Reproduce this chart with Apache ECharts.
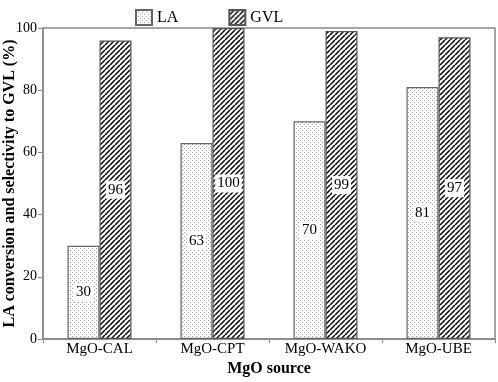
<!DOCTYPE html>
<html><head><meta charset="utf-8">
<script src="https://cdn.jsdelivr.net/npm/echarts@6/dist/echarts.min.js"></script>
<style>html,body{margin:0;padding:0;background:#fff}#c{width:498px;height:382px}</style>
</head><body><div id="c"></div>
<script>
const categories = ['MgO-CAL', 'MgO-CPT', 'MgO-WAKO', 'MgO-UBE'];
const laValues = [30, 63, 70, 81];
const gvlValues = [96, 100, 99, 97];
const yTicks = [0, 20, 40, 60, 80, 100];

function dotPattern() {
  const c = document.createElement('canvas'); c.width = 4; c.height = 4;
  const g = c.getContext('2d');
  g.fillStyle = '#fff'; g.fillRect(0, 0, 4, 4);
  g.fillStyle = '#a0a0a0';
  g.fillRect(0, 0, 1, 1); g.fillRect(2, 2, 1, 1);
  return c;
}
function hatchPattern() {
  const s = 5;
  const c = document.createElement('canvas'); c.width = s; c.height = s;
  const g = c.getContext('2d');
  g.fillStyle = '#fff'; g.fillRect(0, 0, s, s);
  g.strokeStyle = '#000'; g.lineWidth = 1.5;
  for (const k of [-s, 0, s]) { g.beginPath(); g.moveTo(k, s); g.lineTo(k + s, 0); g.stroke(); }
  return c;
}
const font = '"Liberation Serif", "Times New Roman", serif';
const chart = echarts.init(document.getElementById('c'), null, {renderer: 'canvas'});
const labelCfg = {show: true, position: 'inside', color: '#000', fontFamily: font, fontSize: 15,
  backgroundColor: '#fff', padding: [2, 2, 1, 2]};
chart.setOption({
  animation: false,
  textStyle: {fontFamily: font},
  legend: {left: 130, top: 4, itemWidth: 16, itemHeight: 15, itemGap: 50, icon: 'rect',
    textStyle: {fontFamily: font, fontSize: 16, color: '#000'},
    data: ['LA', 'GVL']},
  grid: {left: 43, right: 3, top: 28, bottom: 43, show: true, borderColor: '#888', borderWidth: 1.5,
    containLabel: false, outerBoundsMode: 'none'},
  xAxis: {type: 'category', data: categories,
    name: 'MgO source', nameLocation: 'middle', nameGap: 22, nameMoveOverlap: false,
    nameTextStyle: {fontFamily: font, fontSize: 16, fontWeight: 'bold', color: '#000', verticalAlign: 'top'},
    axisLine: {lineStyle: {color: '#888', width: 1.5}},
    axisTick: {show: true, length: 4, lineStyle: {color: '#888'}},
    axisLabel: {fontFamily: font, fontSize: 15, color: '#000', margin: 3, interval: 0}},
  yAxis: {type: 'value', min: yTicks[0], max: yTicks[yTicks.length - 1], interval: 20,
    name: 'LA conversion and selectivity to GVL (%)', nameLocation: 'middle', nameGap: 25, nameMoveOverlap: false,
    nameTextStyle: {fontFamily: font, fontSize: 16, fontWeight: 'bold', color: '#000'},
    axisLine: {show: true, lineStyle: {color: '#888', width: 1.5}},
    axisTick: {show: true, length: 5, lineStyle: {color: '#888'}},
    splitLine: {show: false},
    axisLabel: {fontFamily: font, fontSize: 14, color: '#000', margin: 6}},
  series: [
    {name: 'LA', type: 'bar', data: laValues, barWidth: 32, barGap: '0%',
      itemStyle: {color: {image: dotPattern(), repeat: 'repeat'}, borderColor: '#666', borderWidth: 1.2},
      label: labelCfg},
    {name: 'GVL', type: 'bar', data: gvlValues, barWidth: 32,
      itemStyle: {color: {image: hatchPattern(), repeat: 'repeat'}, borderColor: '#555', borderWidth: 1.2},
      label: labelCfg}
  ]
});
</script></body></html>
